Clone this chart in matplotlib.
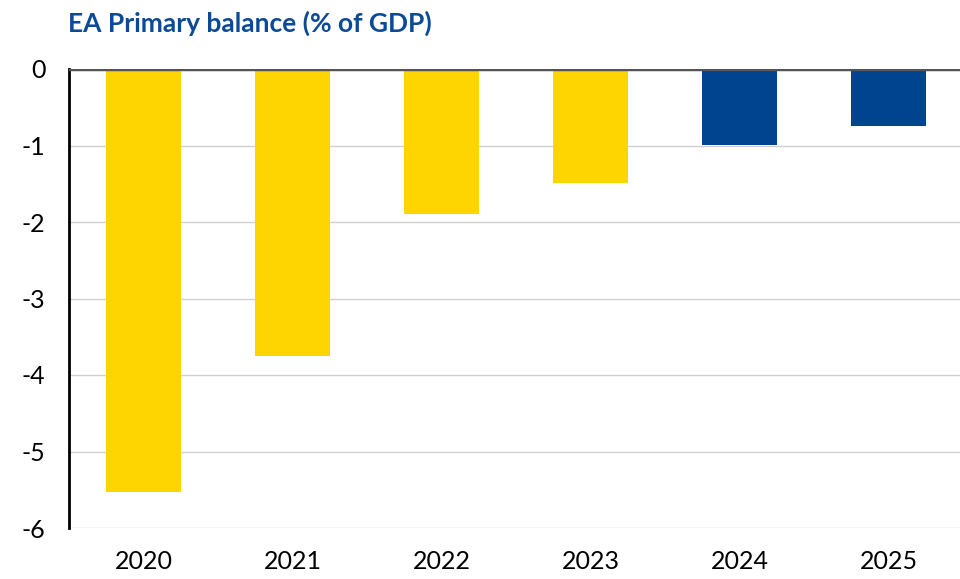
import matplotlib.pyplot as plt
import numpy as np

years = ["2020", "2021", "2022", "2023", "2024", "2025"]
balance = [-5.53, -3.75, -1.9, -1.49, -0.99, -0.75]
bar_colors = ["#FFD500", "#FFD500", "#FFD500", "#FFD500", "#00438F", "#00438F"]

plt.rcParams["font.family"] = ["Lato", "DejaVu Sans"]

fig = plt.figure(figsize=(9.6, 5.79), dpi=100)
ax = fig.add_axes([69 / 960, 1 - 528 / 579, 894 / 960, (528 - 69) / 579])

x = np.arange(len(years))
ax.bar(x, balance, width=0.5, color=bar_colors, zorder=3)

ax.set_xlim(-0.5, len(years) - 0.5)
ax.set_ylim(-6, 0)
ax.set_yticks(range(-6, 1))
ax.set_yticklabels([str(v) for v in range(-6, 1)])
ax.set_xticks(x)
ax.set_xticklabels(years)
ax.tick_params(axis="both", length=0, labelsize=18, colors="black")
ax.tick_params(axis="y", pad=17)
ax.tick_params(axis="x", pad=16)

ax.grid(axis="y", color="#D0D0D0", linewidth=1, zorder=0)
for s in ["top", "right", "bottom"]:
    ax.spines[s].set_visible(False)
ax.spines["left"].set_color("black")
ax.spines["left"].set_linewidth(2)
ax.axhline(0, color="#555555", linewidth=2.5, zorder=4)

fig.text(68 / 960, 1 - 23 / 579, "EA Primary balance (% of GDP)", fontsize=19,
         fontweight="bold", color="#0B4A96", ha="left", va="center")

fig.savefig("out.png", dpi=100)
